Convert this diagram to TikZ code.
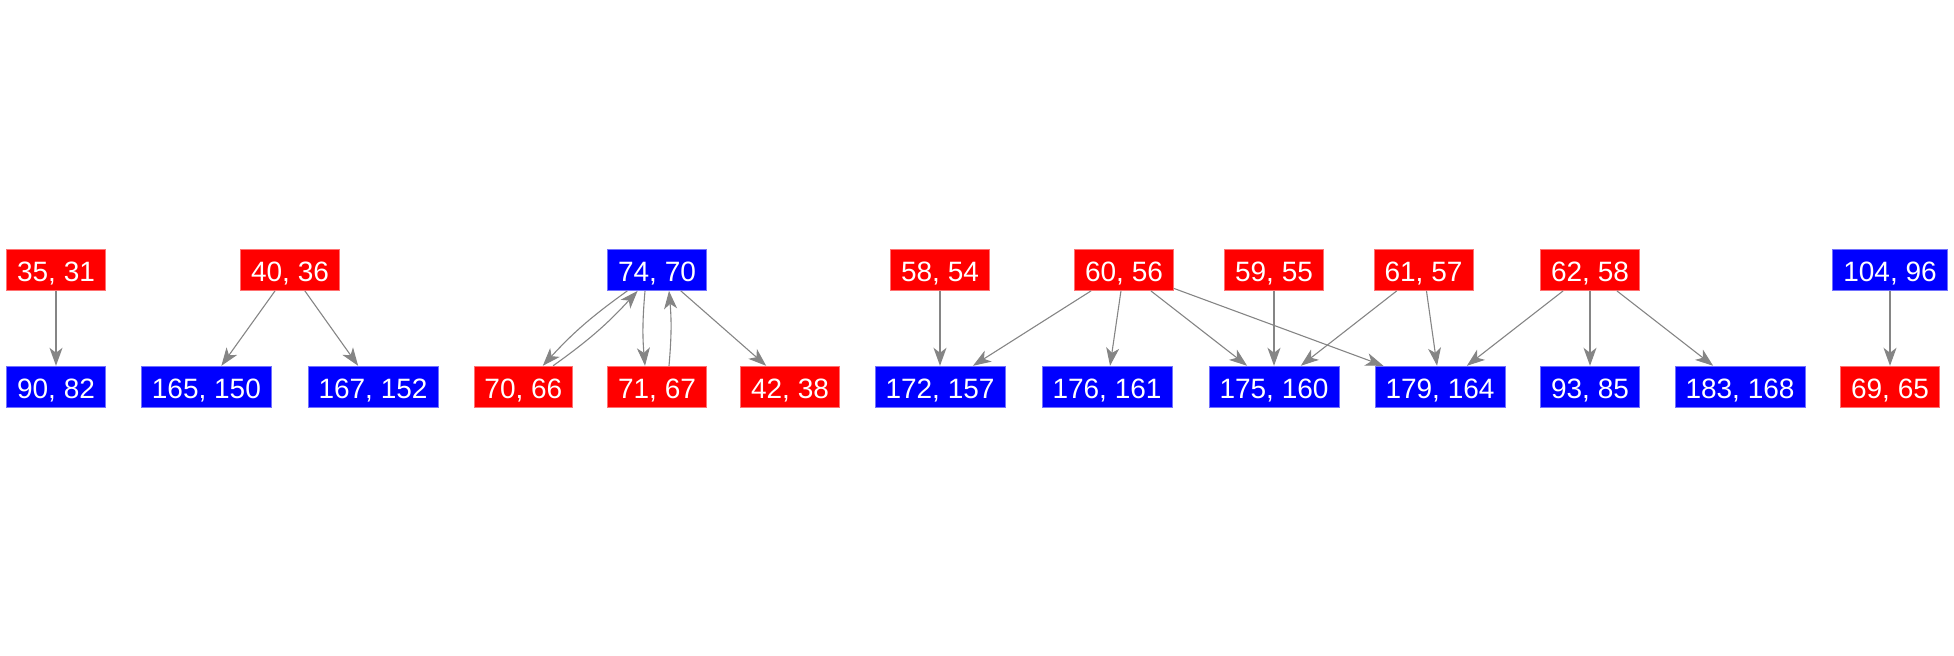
\documentclass[tikz,border=0pt]{standalone}
\usepackage{fontspec}
\setmainfont{Liberation Sans}
\usetikzlibrary{arrows.meta}
\definecolor{NdRed}   {HTML}{FF0000}
\definecolor{NdRedLt} {HTML}{FF7070}
\definecolor{NdBlue}  {HTML}{0000FF}
\definecolor{NdBlueLt}{HTML}{7070FF}
\definecolor{EdGray}  {HTML}{858585}
\tikzset{
  box/.style={font=\fontsize{14}{16}\selectfont,text=white,inner xsep=5.25pt,inner ysep=0pt,
              minimum height=20.5pt,text height=11.6pt,text depth=0pt,line width=0.4pt},
  redbox/.style={box,fill=NdRed,draw=NdRedLt},
  bluebox/.style={box,fill=NdBlue,draw=NdBlueLt},
  myarr/.style={-{Stealth[length=9pt,width=6.5pt,inset=2.5pt]},line width=0.55pt,color=EdGray}
}
\begin{document}
\begin{tikzpicture}[x=0.5pt,y=-0.5pt]
    \useasboundingbox (0,0) rectangle (1954,656);
    % Top row
    \node[redbox]  (a3531)  at (56,270)     {35, 31};
    \node[redbox]  (a4036)  at (290,270)    {40, 36};
    \node[bluebox] (a7470)  at (657,270)    {74, 70};
    \node[redbox]  (a5854)  at (940,270)    {58, 54};
    \node[redbox]  (a6056)  at (1124,270)   {60, 56};
    \node[redbox]  (a5955)  at (1274,270)   {59, 55};
    \node[redbox]  (a6157)  at (1423.5,270) {61, 57};
    \node[redbox]  (a6258)  at (1590,270)   {62, 58};
    \node[bluebox] (a10496) at (1890,270)   {104, 96};
    % Bottom row
    \node[bluebox] (b9082)   at (56,386.7)     {90, 82};
    \node[bluebox] (b165150) at (206.4,386.7)  {165, 150};
    \node[bluebox] (b167152) at (373,386.7)    {167, 152};
    \node[redbox]  (b7066)   at (523.4,386.7)  {70, 66};
    \node[redbox]  (b7167)   at (657,386.7)    {71, 67};
    \node[redbox]  (b4238)   at (790,386.7)    {42, 38};
    \node[bluebox] (b172157) at (940,386.7)    {172, 157};
    \node[bluebox] (b176161) at (1107,386.7)   {176, 161};
    \node[bluebox] (b175160) at (1274,386.7)   {175, 160};
    \node[bluebox] (b179164) at (1440,386.7)   {179, 164};
    \node[bluebox] (b9385)   at (1590,386.7)   {93, 85};
    \node[bluebox] (b183168) at (1740,386.7)   {183, 168};
    \node[redbox]  (b6965)   at (1890,386.7)   {69, 65};
    % Edges
    \draw[myarr] (a3531) -- (b9082);
    \draw[myarr] (a4036) -- (b165150);
    \draw[myarr] (a4036) -- (b167152);
    \draw[myarr] (a7470) to[bend right=6] (b7066);
    \draw[myarr] (b7066) to[bend right=6] (a7470);
    \draw[myarr] ([xshift=-6pt]a7470.south) to[bend right=5] ([xshift=-6pt]b7167.north);
    \draw[myarr] ([xshift=6pt]b7167.north) to[bend right=5] ([xshift=6pt]a7470.south);
    \draw[myarr] (a7470) -- (b4238);
    \draw[myarr] (a5854) -- (b172157);
    \draw[myarr] (a6056) -- (b172157);
    \draw[myarr] (a6056) -- (b176161);
    \draw[myarr] (a6056) -- (b175160);
    \draw[myarr] (a6056) -- (b179164);
    \draw[myarr] (a5955) -- (b175160);
    \draw[myarr] (a6157) -- (b175160);
    \draw[myarr] (a6157) -- (b179164);
    \draw[myarr] (a6258) -- (b179164);
    \draw[myarr] (a6258) -- (b9385);
    \draw[myarr] (a6258) -- (b183168);
    \draw[myarr] (a10496) -- (b6965);
\end{tikzpicture}
\end{document}
